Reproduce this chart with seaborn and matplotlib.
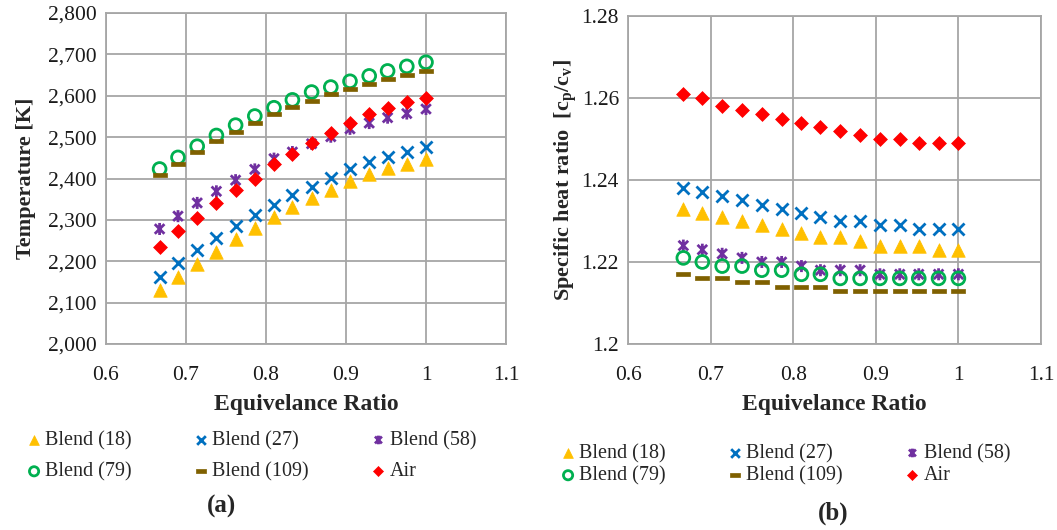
import numpy as np
import pandas as pd
import matplotlib
matplotlib.use("Agg")
import matplotlib.pyplot as plt
import seaborn as sns
from matplotlib.path import Path
from matplotlib.ticker import FuncFormatter

# ---------------- data ----------------
phi = [0.667, 0.690, 0.714, 0.738, 0.762, 0.786, 0.810, 0.833,
       0.857, 0.881, 0.905, 0.929, 0.952, 0.976, 1.000]

series_names = ["Blend (18)", "Blend (27)", "Blend (58)", "Blend (79)", "Blend (109)", "Air"]

temp_b18 = [2130, 2162, 2194, 2222, 2254, 2281, 2307, 2332, 2353, 2373, 2395, 2410, 2426, 2436, 2448]
temp_b27 = [2161, 2195, 2227, 2256, 2285, 2311, 2337, 2360, 2380, 2402, 2422, 2439, 2452, 2464, 2476]
temp_b58 = [2278, 2309, 2341, 2369, 2396, 2422, 2448, 2464, 2484, 2501, 2520, 2534, 2547, 2557, 2568]
temp_b79 = [2423, 2451, 2478, 2504, 2529, 2551, 2571, 2590, 2609, 2621, 2635, 2648, 2660, 2671, 2681]
temp_b109 = [2408, 2436, 2464, 2490, 2513, 2535, 2555, 2572, 2588, 2605, 2617, 2629, 2641, 2650, 2659]
temp_air = [2235, 2273, 2305, 2340, 2373, 2400, 2435, 2460, 2485, 2510, 2533, 2555, 2571, 2586, 2595]

gam_b18 = [1.233, 1.232, 1.231, 1.230, 1.229, 1.228, 1.227, 1.226, 1.226, 1.225, 1.224, 1.224, 1.224, 1.223, 1.223]
gam_b27 = [1.238, 1.237, 1.236, 1.235, 1.234, 1.233, 1.232, 1.231, 1.230, 1.230, 1.229, 1.229, 1.228, 1.228, 1.228]
gam_b58 = [1.224, 1.223, 1.222, 1.221, 1.220, 1.220, 1.219, 1.218, 1.218, 1.218, 1.217, 1.217, 1.217, 1.217, 1.217]
gam_b79 = [1.221, 1.220, 1.219, 1.219, 1.218, 1.218, 1.217, 1.217, 1.216, 1.216, 1.216, 1.216, 1.216, 1.216, 1.216]
gam_b109 = [1.217, 1.216, 1.216, 1.215, 1.215, 1.214, 1.214, 1.214, 1.213, 1.213, 1.213, 1.213, 1.213, 1.213, 1.213]
gam_air = [1.261, 1.260, 1.258, 1.257, 1.256, 1.255, 1.254, 1.253, 1.252, 1.251, 1.250, 1.250, 1.249, 1.249, 1.249]

x_ticks = [0.6, 0.7, 0.8, 0.9, 1.0, 1.1]
temp_ticks = [2000, 2100, 2200, 2300, 2400, 2500, 2600, 2700, 2800]
gam_ticks = [1.20, 1.22, 1.24, 1.26, 1.28]

# ---------------- style ----------------
sns.set_theme(style="white")
plt.rcParams["font.family"] = ["Liberation Serif", "DejaVu Serif"]
plt.rcParams["mathtext.fontset"] = "custom"
plt.rcParams["mathtext.rm"] = "Liberation Serif"
plt.rcParams["mathtext.it"] = "Liberation Serif:italic"
plt.rcParams["mathtext.bf"] = "Liberation Serif:bold"

colors = {"Blend (18)": "#FFC000", "Blend (27)": "#0070C0", "Blend (58)": "#7030A0",
          "Blend (79)": "#00B050", "Blend (109)": "#7F6000", "Air": "#FF0000"}

star_path = Path([(-1, -1), (1, 1), (-1, 1), (1, -1), (0, -1.25), (0, 1.25)],
                 [Path.MOVETO, Path.LINETO, Path.MOVETO, Path.LINETO, Path.MOVETO, Path.LINETO])
dash_path = Path([(-1, -0.3), (1, -0.3), (1, 0.3), (-1, 0.3), (-1, -0.3)],
                 [Path.MOVETO, Path.LINETO, Path.LINETO, Path.LINETO, Path.CLOSEPOLY])

styles = {
    "Blend (18)": dict(marker="^", s=95, facecolor=colors["Blend (18)"], edgecolor=colors["Blend (18)"], linewidth=0.5),
    "Blend (27)": dict(marker="x", s=75, color=colors["Blend (27)"], linewidth=2.0),
    "Blend (58)": dict(marker=star_path, s=75, facecolor="none", edgecolor=colors["Blend (58)"], linewidth=2.0),
    "Blend (79)": dict(marker="o", s=85, facecolor="none", edgecolor=colors["Blend (79)"], linewidth=2.0),
    "Blend (109)": dict(marker=dash_path, s=110, facecolor=colors["Blend (109)"], edgecolor=colors["Blend (109)"], linewidth=0.5),
    "Air": dict(marker="D", s=50, facecolor=colors["Air"], edgecolor=colors["Air"], linewidth=0.5),
}

temp_data = dict(zip(series_names, [temp_b18, temp_b27, temp_b58, temp_b79, temp_b109, temp_air]))
gam_data = dict(zip(series_names, [gam_b18, gam_b27, gam_b58, gam_b79, gam_b109, gam_air]))

fig = plt.figure(figsize=(10.57, 5.30), dpi=100)
axL = fig.add_axes([106/1057, 1-344/530, 400/1057, 331/530])
axR = fig.add_axes([628/1057, 1-344/530, 413/1057, 328/530])

grid_col = "#A6A6A6"
TICK_FS = 15.5

def style_axes(ax, data, yticks, ylim, yfmt, ylabel, ylabelpad):
    for name in series_names:
        df = pd.DataFrame({"phi": phi, "val": data[name]})
        sns.scatterplot(data=df, x="phi", y="val", ax=ax, label=name, zorder=3, **styles[name])
    ax.set_xlim(0.6, 1.1)
    ax.set_xticks(x_ticks)
    ax.set_ylim(*ylim)
    ax.set_yticks(yticks)
    ax.xaxis.set_major_formatter(FuncFormatter(lambda v, p: f"{v:g}"))
    ax.yaxis.set_major_formatter(FuncFormatter(yfmt))
    ax.grid(True, color=grid_col, linewidth=1.3)
    ax.set_axisbelow(True)
    for sp in ax.spines.values():
        sp.set_color(grid_col)
        sp.set_linewidth(1.3)
    ax.tick_params(axis="both", length=0, labelsize=TICK_FS, colors="#1a1a1a")
    ax.tick_params(axis="x", pad=16)
    ax.tick_params(axis="y", pad=6.5)
    ax.set_xlabel("Equivelance Ratio", fontsize=17, fontweight="bold", labelpad=6)
    ax.set_ylabel(ylabel, fontsize=16, fontweight="bold", labelpad=ylabelpad)

style_axes(axL, temp_data, temp_ticks, (2000, 2800), lambda v, p: f"{int(round(v)):,}",
           "Temperature [K]", 9)
style_axes(axR, gam_data, gam_ticks, (1.2, 1.28), lambda v, p: f"{v:g}",
           r"Specific heat ratio  [c$_{\mathbf{p}}$/c$_{\mathbf{v}}$]", 2)

def make_legend(ax, anchor, spacing):
    h, l = ax.get_legend_handles_labels()
    order = [0, 3, 1, 4, 2, 5]
    ax.legend([h[i] for i in order], [l[i] for i in order], ncol=3, frameon=False,
              loc="upper left", bbox_to_anchor=anchor, bbox_transform=fig.transFigure,
              fontsize=14.5, handletextpad=0.05, handlelength=1.0, columnspacing=2.95,
              labelspacing=spacing, borderaxespad=0, borderpad=0, markerscale=0.72)

make_legend(axL, (24/1057, 1-431/530), 0.6)
make_legend(axR, (558/1057, 1-444/530), 0.15)

fig.text(222/1057, 1-506/530, "(a)", ha="center", va="center", fontsize=18, fontweight="bold")
fig.text(833/1057, 1-513/530, "(b)", ha="center", va="center", fontsize=18, fontweight="bold")

fig.savefig("out.png", dpi=100)
